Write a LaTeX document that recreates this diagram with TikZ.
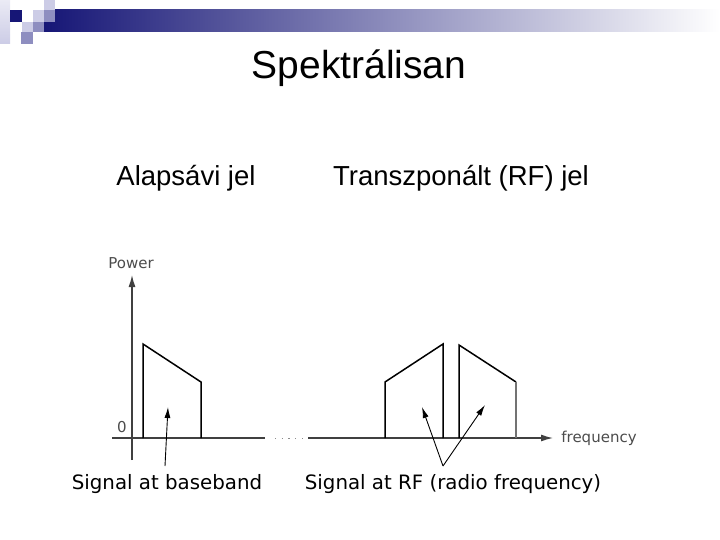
\documentclass[tikz,border=0pt]{standalone}
\usepackage{fontspec}
\setmainfont{Liberation Sans}
\newfontfamily\plotfont{DejaVu Sans}
\usetikzlibrary{positioning, arrows.meta}

\definecolor{deepnavy}{RGB}{22,22,118}
\definecolor{palelav}{RGB}{204,204,230}
\definecolor{midlav}{RGB}{142,142,192}

\begin{document}
\begin{tikzpicture}[x=1pt, y=-1pt,
  title/.style={font=\fontsize{39}{44}\selectfont},
  head/.style={font=\fontsize{27.5}{32}\selectfont},
  caption/.style={font=\plotfont\fontsize{19.8}{23}\selectfont},
  axlabel/.style={font=\plotfont\fontsize{15}{18}\selectfont, text=black!70},
  axis/.style={line width=1.3pt, draw=black!75},
  band/.style={line width=1.5pt, draw=black, line join=miter},
  pointer/.style={-{Latex[length=11pt,width=6pt]}, line width=0.9pt}
]
\useasboundingbox (0,0) rectangle (720,540);

% --- slide header strip ---
\shade[left color=deepnavy, right color=white] (44,10) rectangle (720,32);
\shade[top color=palelav!40, bottom color=palelav] (0,0) rectangle (10,44);
\fill[deepnavy] (10,10) rectangle (22,22);
\fill[palelav] (33,10) rectangle (44,22);
\fill[palelav] (44,0) rectangle (55,10);
\fill[midlav] (44,10) rectangle (55,22);
\fill[palelav] (22,22) rectangle (33,32);
\fill[midlav] (33,22) rectangle (44,32);
\fill[midlav] (21,32) rectangle (33,44);

% --- titles ---
\node[title] (ttl) at (359,68) {Spektrálisan};
\node[head] (base) at (186,178) {Alapsávi jel};
\node[head] (trans) at (461,178) {Transzponált (RF) jel};

% --- axes ---
\coordinate (vbot) at (132,460);
\coordinate (vtop) at (132,275);
\coordinate (hleft) at (112,438);
\coordinate (gapl) at (265,438);
\coordinate (gapr) at (308,438);
\coordinate (hright) at (553,438);
\draw[axis, -{Latex[length=12pt,width=7pt]}] (vbot) -- (vtop);
\draw[axis] (hleft) -- (gapl);
\draw[black!45, line width=1pt, dash pattern=on 1.2pt off 5.5pt] ([xshift=10pt]gapl) -- (gapr);
\draw[axis, -{Latex[length=12pt,width=7pt]}] (gapr) -- (hright);
\node[axlabel] (power) at (131,263) {Power};
\node[axlabel] (zero) at (122,427) {0};
\node[axlabel] (freq) at (599,438) {frequency};

% --- baseband spectrum ---
\draw[band] (143,438) -- (143,344) -- (201,382) -- (201,438);

% --- RF spectrum, two sidebands ---
\draw[band] (385,438) -- (385,382) -- (443,344) -- (443,438);
\draw[band] (459,438) -- (459,345) -- (516,382);
\draw[band, draw=black!55] (516,382) -- (516,438);

% --- captions and pointers ---
\node[caption] (bblbl) at (167,484) {Signal at baseband};
\node[caption] (rflbl) at (453,484) {Signal at RF (radio frequency)};
\coordinate (bbtail) at (165,466);
\coordinate (bbtip) at (168,407);
\coordinate (rftail) at (443,466);
\coordinate (lowtip) at (422,407);
\coordinate (uptip) at (485,405);
\draw[pointer] (bbtail) -- (bbtip);
\draw[pointer] (rftail) -- (lowtip);
\draw[pointer] (rftail) -- (uptip);

\end{tikzpicture}
\end{document}
